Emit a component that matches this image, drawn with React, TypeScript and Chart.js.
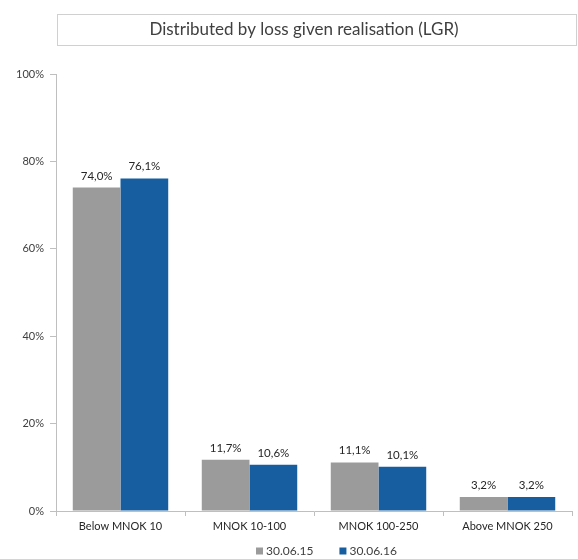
import React, { useEffect, useRef } from "react";
import { Chart, registerables } from "chart.js";

Chart.register(...registerables);

const categories = ["Below MNOK 10", "MNOK 10-100", "MNOK 100-250", "Above MNOK 250"];
const series2015 = [74.0, 11.7, 11.1, 3.2];
const series2016 = [76.1, 10.6, 10.1, 3.2];
const seriesLabels = ["30.06.15", "30.06.16"];
const seriesColors = ["#9b9b9b", "#175ea0"];
const titleText = "Distributed by loss given realisation (LGR)";

const FONT = "Lato, 'Open Sans', sans-serif";

const titleBoxPlugin = {
  id: "titleBox",
  afterDraw(chart: any) {
    const ctx = chart.ctx;
    ctx.save();
    ctx.strokeStyle = "#d0d0d0";
    ctx.lineWidth = 1;
    ctx.strokeRect(57.5, 14.5, 519, 31);
    ctx.fillStyle = "#404040";
    ctx.font = `17px ${FONT}`;
    ctx.textAlign = "center";
    ctx.textBaseline = "middle";
    ctx.fillText(titleText, 304, 30);
    ctx.restore();
  },
};

const legendPlugin = {
  id: "customLegend",
  afterDraw(chart: any) {
    const ctx = chart.ctx;
    ctx.save();
    ctx.font = `12px ${FONT}`;
    ctx.textBaseline = "middle";
    ctx.textAlign = "left";
    const y = 551;
    let x = 256;
    chart.data.datasets.forEach((ds: any, i: number) => {
      ctx.fillStyle = seriesColors[i];
      ctx.fillRect(x, y - 3.5, 7, 7);
      ctx.fillStyle = "#404040";
      ctx.fillText(ds.label, x + 10, y);
      x += 10 + ctx.measureText(ds.label).width + 26;
    });
    ctx.restore();
  },
};

const dataLabelPlugin = {
  id: "dataLabels",
  afterDatasetsDraw(chart: any) {
    const ctx = chart.ctx;
    ctx.save();
    ctx.fillStyle = "#262626";
    ctx.font = `11.5px ${FONT}`;
    ctx.textAlign = "center";
    ctx.textBaseline = "bottom";
    chart.data.datasets.forEach((ds: any, i: number) => {
      const meta = chart.getDatasetMeta(i);
      meta.data.forEach((el: any, j: number) => {
        const v = ds.data[j] as number;
        ctx.fillText(v.toFixed(1).replace(".", ",") + "%", el.x, el.y - 6);
      });
    });
    ctx.restore();
  },
};

export default function App() {
  const ref = useRef<HTMLCanvasElement>(null);
  useEffect(() => {
    document.body.style.margin = "0";
    const chart = new Chart(ref.current!, {
      type: "bar",
      data: {
        labels: categories,
        datasets: [
          {
            label: seriesLabels[0],
            data: series2015,
            backgroundColor: seriesColors[0],
            barPercentage: 1,
            categoryPercentage: 0.74,
          },
          {
            label: seriesLabels[1],
            data: series2016,
            backgroundColor: seriesColors[1],
            barPercentage: 1,
            categoryPercentage: 0.74,
          },
        ],
      },
      options: {
        animation: false,
        responsive: false,
        layout: { padding: { top: 74, right: 6, left: 0, bottom: 25 } },
        plugins: {
          legend: { display: false },
          tooltip: { enabled: false },
          title: { display: false },
        },
        scales: {
          x: {
            grid: {
              offset: true,
              drawOnChartArea: false,
              tickLength: 5,
              color: "#bfbfbf",
            },
            border: { color: "#bfbfbf" },
            ticks: { color: "#262626", font: { family: FONT, size: 11 }, padding: 4, maxRotation: 0 },
            afterFit(scale: any) {
              scale.height = 23;
            },
          },
          y: {
            min: 0,
            max: 100,
            afterFit(scale: any) {
              scale.width = 56;
            },
            grid: { drawOnChartArea: false, tickLength: 6, color: "#bfbfbf" },
            border: { color: "#bfbfbf" },
            ticks: {
              stepSize: 20,
              color: "#404040",
              font: { family: FONT, size: 11 },
              padding: 6,
              callback: (v: any) => v + "%",
            },
          },
        },
      },
      plugins: [titleBoxPlugin, dataLabelPlugin, legendPlugin],
    });
    return () => chart.destroy();
  }, []);
  return <canvas ref={ref} width={578} height={559} style={{ display: "block" }} />;
}
